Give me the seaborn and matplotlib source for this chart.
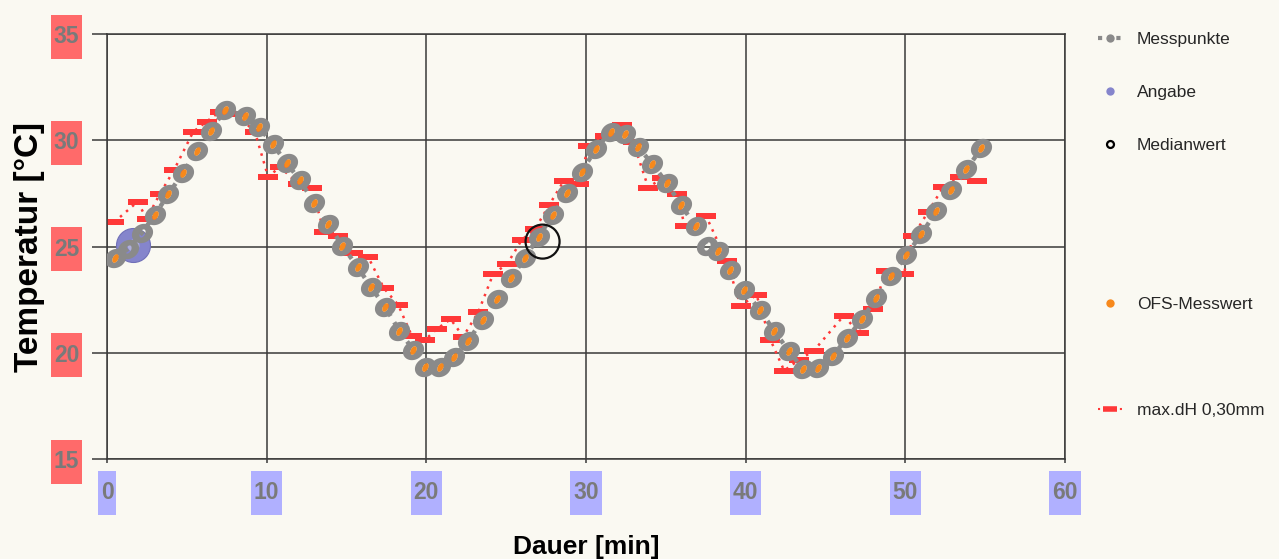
import numpy as np
import matplotlib
matplotlib.use("Agg")
import matplotlib.pyplot as plt
from matplotlib.path import Path
from matplotlib.lines import Line2D
import seaborn as sns

# ---------------- data ----------------
mess_x = [0.5, 1.33, 2.17, 3.0, 3.84, 4.74, 5.65, 6.49, 7.39, 8.64, 9.52, 10.37,
          11.25, 12.08, 12.98, 13.86, 14.73, 15.7, 16.51, 17.41, 18.3, 19.18, 19.91,
          20.85, 21.75, 22.62, 23.52, 24.44, 25.3, 26.19, 27.03, 27.93, 28.82, 29.72,
          30.62, 31.54, 32.42, 33.27, 34.15, 35.05, 35.94, 36.86, 37.6, 38.24, 39.05,
          39.89, 40.89, 41.78, 42.7, 43.6, 44.54, 45.44, 46.36, 47.28, 48.19, 49.13,
          50.07, 51.01, 51.95, 52.89, 53.83, 54.77]
mess_y = [24.45, 24.9, 25.63, 26.49, 27.46, 28.45, 29.5, 30.45, 31.43, 31.16, 30.61, 29.83,
          28.92, 28.13, 27.04, 26.05, 25.04, 24.03, 23.11, 22.17, 21.04, 20.14, 19.35,
          19.32, 19.82, 20.56, 21.55, 22.52, 23.51, 24.48, 25.47, 26.47, 27.54, 28.52,
          29.59, 30.4, 30.3, 29.67, 28.89, 28.0, 26.96, 25.97, 25.03, 24.81, 23.9,
          22.93, 22.02, 21.03, 20.09, 19.23, 19.26, 19.85, 20.69, 21.58, 22.57, 23.62,
          24.6, 25.59, 26.67, 27.66, 28.64, 29.62]
ofs_y = [24.45, None, None, 26.49, 27.46, 28.45, 29.5, 30.45, 31.43, 31.16, 30.61, 29.83,
         28.92, 28.13, 27.04, 26.05, 25.04, 24.03, 23.11, 22.17, 21.04, 20.14, 19.35,
         19.32, 19.82, 20.56, 21.55, 22.52, 23.51, 24.48, 25.47, 26.47, 27.54, 28.52,
         29.59, 30.4, 30.3, 29.67, 28.89, 28.0, 26.96, 25.97, None, 24.81, 23.9,
         22.93, 22.02, 21.03, 20.09, 19.23, 19.26, 19.85, 20.69, 21.58, 22.57, 23.62,
         24.6, 25.59, 26.67, 27.66, 28.64, 29.62]
angabe_x = [1.63]
angabe_y = [25.07]
median_x = [27.28]
median_y = [25.23]
dh_x = [0.44, 1.92, 2.48, 3.3, 4.2, 5.4, 6.24, 7.07, 8.1, 9.27, 10.1, 10.83, 11.96, 12.82,
        13.6, 14.49, 15.42, 16.36, 17.34, 18.24, 19.08, 19.91, 20.64, 21.52, 22.31,
        23.25, 24.19, 25.07, 25.97, 26.8, 27.7, 28.62, 29.58, 30.14, 31.18, 32.23,
        32.96, 33.9, 34.79, 35.67, 36.19, 37.51, 38.8, 39.68, 40.68, 41.55, 42.41,
        43.35, 44.27, 46.15, 47.09, 47.98, 48.8, 49.9, 50.5, 51.43, 52.37, 53.4, 54.5]
dh_y = [26.14, 27.11, 26.3, 27.46, 28.6, 30.4, 30.88, 31.35, 31.25, 30.38, 28.26, 28.76,
        27.94, 27.77, 25.67, 25.5, 24.68, 24.5, 23.04, 22.25, 20.81, 20.6, 21.11, 21.58,
        20.76, 21.91, 23.71, 24.18, 25.31, 25.81, 26.96, 28.1, 27.94, 29.73, 30.22,
        30.72, 29.91, 27.77, 28.24, 27.46, 25.97, 26.45, 24.34, 22.22, 22.72, 20.61,
        19.16, 19.67, 20.1, 21.75, 20.92, 22.07, 23.85, 23.7, 25.5, 26.64, 27.79,
        28.26, 28.1]
x_ticks = [0, 10, 20, 30, 40, 50, 60]
y_ticks = [15, 20, 25, 30, 35]
legend_labels = ["Messpunkte", "Angabe", "Medianwert", "OFS-Messwert", "max.dH 0,30mm"]

# ---------------- style ----------------
sns.set_theme(style="white")
FAM = ['Liberation Sans', 'DejaVu Sans']
plt.rcParams['font.family'] = FAM

BG = '#faf9f2'
GRAY = '#8a8a8a'
ORANGE = '#f7891c'
RED = '#ff3838'
BLUE = '#8585cc'
GRID = '#3a3a3a'
DPI = 100
PX2PT = 72.0 / DPI

fig = plt.figure(figsize=(12.79, 5.59), dpi=DPI, facecolor=BG)
ax = fig.add_axes([107 / 1279, 100 / 559, 958 / 1279, 425 / 559])
ax.set_facecolor(BG)


def ellipse(a, b, ang, n=64, reverse=False):
    t = np.linspace(0, 2 * np.pi, n)
    if reverse:
        t = t[::-1]
    x, y = a * np.cos(t), b * np.sin(t)
    c, s = np.cos(np.radians(ang)), np.sin(np.radians(ang))
    return np.column_stack([x * c - y * s, x * s + y * c])


def make_path(parts):
    verts, codes = [], []
    for p in parts:
        verts.append(p)
        codes += [Path.MOVETO] + [Path.LINETO] * (len(p) - 2) + [Path.CLOSEPOLY]
    return Path(np.vstack(verts), codes)


def size_for(path):
    m = np.max(np.abs(path.vertices))
    return (2 * m * PX2PT) ** 2


ring = make_path([ellipse(11.0, 9.2, 30), ellipse(4.4, 2.6, 62, reverse=True)])
dot = make_path([ellipse(4.6, 2.7, 62)])
bar = make_path([np.array([[-10, -2.8], [10, -2.8], [10, 2.8], [-10, 2.8], [-10, -2.8]])])

# red max.dH series (dotted line + bars)
sns.lineplot(x=dh_x, y=dh_y, sort=False, estimator=None, ax=ax, color=RED,
             linestyle=(0, (1, 2.2)), linewidth=1.8, zorder=2)
sns.scatterplot(x=dh_x, y=dh_y, ax=ax, marker=bar, s=size_for(bar), color=RED,
                linewidth=0, zorder=2.5)

# Angabe sphere
sns.scatterplot(x=angabe_x, y=angabe_y, ax=ax, s=(34 * PX2PT) ** 2, color=BLUE,
                edgecolor='#7070b8', linewidth=0.8, zorder=3)
sns.scatterplot(x=angabe_x, y=angabe_y, ax=ax, s=(12 * PX2PT) ** 2, color='white',
                alpha=0.35, linewidth=0, zorder=3.1)

# Messpunkte
sns.lineplot(x=mess_x, y=mess_y, sort=False, estimator=None, ax=ax, color=GRAY,
             linestyle=(0, (1, 1.6)), linewidth=3.2, zorder=4)
sns.scatterplot(x=mess_x, y=mess_y, ax=ax, marker=ring, s=size_for(ring), color=GRAY,
                linewidth=0, zorder=5)

# OFS-Messwert
ofs_plot = [np.nan if v is None else v for v in ofs_y]
sns.scatterplot(x=mess_x, y=ofs_plot, ax=ax, marker=dot, s=size_for(dot), color=ORANGE,
                linewidth=0, zorder=6)

# Medianwert ring
sns.scatterplot(x=median_x, y=median_y, ax=ax, s=(34 * PX2PT) ** 2, facecolor='none',
                edgecolor='#111111', linewidth=1.6, zorder=7)

# ---------------- axes ----------------
ax.set_xlim(0, 60)
ax.set_ylim(15, 35)
ax.set_xticks(x_ticks)
ax.set_yticks(y_ticks)
ax.grid(True, color=GRID, linewidth=1.1)
for sp in ax.spines.values():
    sp.set_color(GRID)
    sp.set_linewidth(1.1)
ax.tick_params(axis='y', left=True, right=False, length=11, width=1.1, color=GRID,
               pad=9, labelsize=16.5, labelcolor='#7a7a7a')
ax.tick_params(axis='x', bottom=True, length=3, width=1.1, color=GRID,
               pad=13, labelsize=16.5, labelcolor='#7a7a7a')


def box_fn(hpad_px, height_px):
    def fn(x0, y0, width, height, mutation_size):
        cy = y0 + height / 2.0
        xa, xb = x0 - hpad_px, x0 + width + hpad_px
        ya, yb = cy - height_px / 2.0, cy + height_px / 2.0
        return Path([(xa, ya), (xb, ya), (xb, yb), (xa, yb), (xa, ya)],
                    [Path.MOVETO, Path.LINETO, Path.LINETO, Path.LINETO, Path.CLOSEPOLY])
    return fn


for lbl in ax.get_yticklabels():
    lbl.set_fontweight('bold')
    lbl.set_bbox(dict(boxstyle=box_fn(3, 44), facecolor='#ff6a6a', edgecolor='none'))
for lbl in ax.get_xticklabels():
    lbl.set_fontweight('bold')
    lbl.set_bbox(dict(boxstyle=box_fn(3, 44), facecolor='#b0b0ff', edgecolor='none'))

ax.set_xlabel("Dauer [min]", fontsize=19, fontweight='bold', color='black', labelpad=22)
ax.set_ylabel("Temperatur [°C]", fontsize=24, fontweight='bold', color='black', labelpad=6)

# ---------------- legend ----------------
blank = Line2D([], [], linestyle='none')
handles = [
    Line2D([], [], color=GRAY, linestyle=(0, (1, 1.2)), linewidth=3, marker='o',
           markersize=6, markerfacecolor=GRAY, markeredgewidth=0),
    Line2D([], [], linestyle='none', marker='o', markersize=6, color=BLUE, markeredgewidth=0),
    Line2D([], [], linestyle='none', marker='o', markersize=5, markerfacecolor='none',
           markeredgecolor='black', markeredgewidth=1.6),
    blank, blank,
    Line2D([], [], linestyle='none', marker='o', markersize=6, color=ORANGE, markeredgewidth=0),
    blank,
    Line2D([], [], color=RED, linestyle=(0, (1, 2.5)), linewidth=1.5, marker='_',
           markersize=10, markeredgewidth=4),
]
labels = [legend_labels[0], legend_labels[1], legend_labels[2], " ", " ",
          legend_labels[3], " ", legend_labels[4]]
fig.legend(handles, labels, loc='upper left', bbox_to_anchor=(1098 / 1279, 1 - 32 / 559),
           frameon=False, fontsize=12.5, handlelength=1.38, handletextpad=0.86,
           labelspacing=2.18, borderpad=0, borderaxespad=0)

fig.savefig("out.png", dpi=DPI, facecolor=BG)
